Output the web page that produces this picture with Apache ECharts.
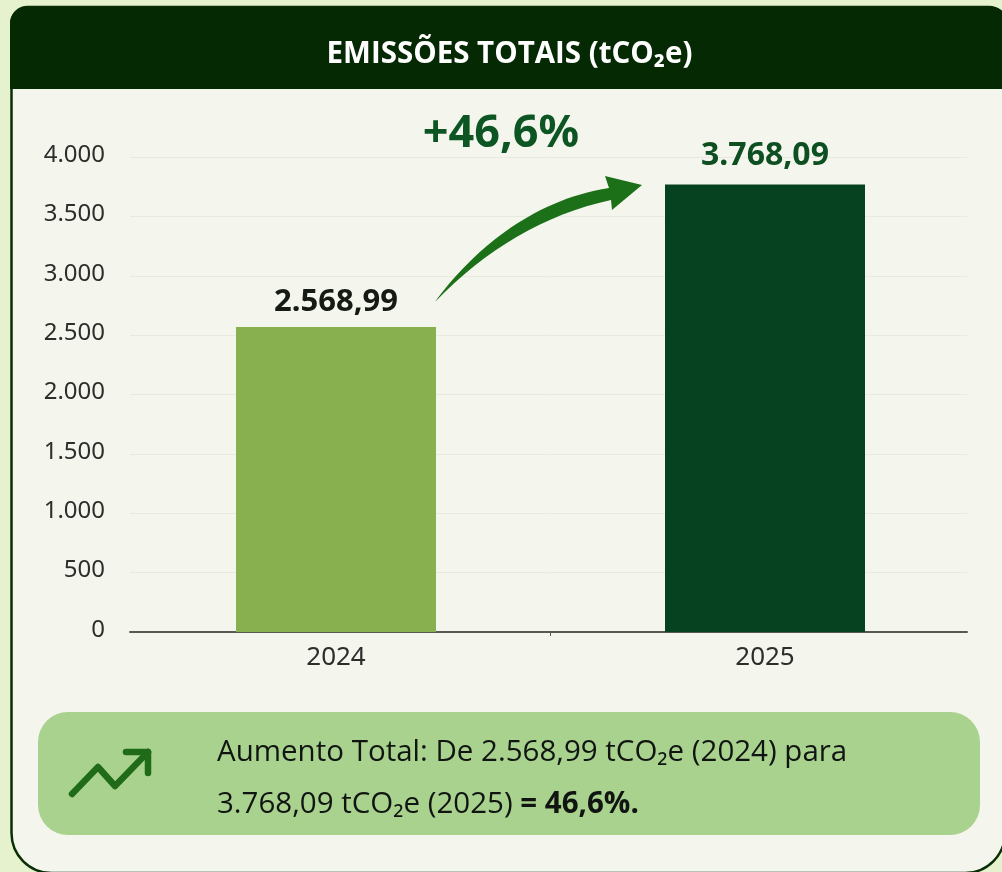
<!DOCTYPE html>
<html lang="pt-BR">
<head>
<meta charset="utf-8">
<title>Emissões totais</title>
<script src="https://cdn.jsdelivr.net/npm/echarts@6/dist/echarts.min.js"></script>
<style>
html, body { margin: 0; padding: 0; background: #e6f2cd; }
#chart { width: 1002px; height: 872px; }
</style>
</head>
<body>
<div id="chart"></div>
<script type="text/javascript">
var categories = ['2024', '2025'];
var totals = [2568.99, 3768.09];
var totalLabels = ['2.568,99', '3.768,09'];
var barColors = ['#88b04f', '#074220'];
var labelColors = ['#151a14', '#0d4f20'];
var labelSizes = [31, 32];
var labelGaps = [9, 13];
var yTicks = { 0: '0', 500: '500', 1000: '1.000', 1500: '1.500', 2000: '2.000', 2500: '2.500', 3000: '3.000', 3500: '3.500', 4000: '4.000' };

var font = '"Noto Sans", "Open Sans", sans-serif';
var bodyFont = '"Open Sans", "Noto Sans", sans-serif';
var chart = echarts.init(document.getElementById('chart'), null, { renderer: 'canvas' });

// curved arrow between the two bars
echarts.graphic.registerShape('growthArrow', echarts.graphic.extendShape({
    buildPath: function (ctx) {
        ctx.moveTo(435, 302);
        ctx.bezierCurveTo(470, 254, 530, 200, 609, 188);
        ctx.lineTo(605, 176);
        ctx.lineTo(642, 185);
        ctx.lineTo(612, 210);
        ctx.lineTo(611, 200);
        ctx.bezierCurveTo(545, 214, 485, 250, 435, 302);
        ctx.closePath();
    }
}));

var option = {
    animation: false,
    backgroundColor: '#e6f2cd',
    // grid 0 carries the lines, grid 1 the bars (bars sit wider apart than the axis line is long)
    grid: [
        { left: 130, width: 837, top: 157, height: 475 },
        { left: 121.5, width: 858, top: 157, height: 475 }
    ],
    xAxis: [
        {
            type: 'value', gridIndex: 0, min: 0, max: 1,
            splitLine: { show: false },
            axisLabel: { show: false },
            axisLine: { show: true, lineStyle: { color: '#555a55', width: 2 } },
            axisTick: { show: true, customValues: [0.502], length: 4, lineStyle: { color: '#555a55', width: 1 } }
        },
        {
            type: 'category', gridIndex: 1, data: categories,
            axisLine: { show: false },
            axisTick: { show: false },
            axisLabel: { color: '#2b2e2b', fontFamily: font, fontSize: 26, margin: 13 }
        }
    ],
    yAxis: [
        {
            type: 'value', gridIndex: 0, min: 0, max: 4000, interval: 500,
            axisLine: { show: false },
            axisTick: { show: false },
            splitLine: { lineStyle: { color: '#e7eadf', width: 1 } },
            axisLabel: {
                color: '#2b2e2b', fontFamily: font, fontSize: 24, margin: 25,
                verticalAlign: 'bottom', lineHeight: 4,
                formatter: function (v) { return yTicks[v]; }
            }
        },
        { type: 'value', gridIndex: 1, min: 0, max: 4000, show: false }
    ],
    series: [{
        type: 'bar',
        xAxisIndex: 1,
        yAxisIndex: 1,
        barWidth: 200,
        z: 3,
        data: totals.map(function (v, i) {
            return {
                value: v,
                itemStyle: { color: barColors[i] },
                label: { color: labelColors[i], fontSize: labelSizes[i], distance: labelGaps[i] }
            };
        }),
        label: {
            show: true,
            position: 'top',
            fontFamily: font,
            fontWeight: 'bold',
            formatter: function (p) { return totalLabels[p.dataIndex]; }
        }
    }],
    graphic: [
        // card
        {
            type: 'rect', z: -10, silent: true,
            shape: { x: 11.5, y: 7, width: 993.5, height: 866, r: [16, 16, 40, 40] },
            style: { fill: '#f4f6ee', stroke: '#0a2e05', lineWidth: 2.5 }
        },
        {
            type: 'rect', z: -9, silent: true,
            shape: { x: 10, y: 7, width: 998, height: 82, r: [16, 16, 0, 0] },
            style: { fill: '#052a03' }
        },
        {
            type: 'text', z: 5, silent: true, x: 509.5, y: 55,
            style: {
                text: 'EMISSÕES TOTAIS (tCO₂e)', fill: '#ffffff', font: 'bold 29.5px ' + bodyFont,
                align: 'center', verticalAlign: 'middle'
            }
        },
        // growth arrow
        {
            type: 'growthArrow', z: 5, silent: true,
            shape: {},
            style: { fill: '#1c7018' }
        },
        {
            type: 'text', z: 5, silent: true, x: 501, y: 134,
            style: {
                text: '+46,6%', fill: '#0d5522', font: 'bold 45px ' + font,
                align: 'center', verticalAlign: 'middle'
            }
        },
        // summary box
        {
            type: 'rect', z: 1, silent: true,
            shape: { x: 38, y: 712, width: 942, height: 123, r: 30 },
            style: { fill: '#a9d28f' }
        },
        {
            type: 'polyline', z: 5, silent: true,
            shape: { points: [[72, 794], [98, 767], [115, 786], [148, 752]] },
            style: { stroke: '#1f6b18', lineWidth: 6.5, lineCap: 'round', lineJoin: 'round', fill: null }
        },
        {
            type: 'polyline', z: 5, silent: true,
            shape: { points: [[126, 752], [148, 752], [148, 773]] },
            style: { stroke: '#1f6b18', lineWidth: 6.5, lineCap: 'round', lineJoin: 'round', fill: null }
        },
        {
            type: 'text', z: 5, silent: true, x: 217, y: 753,
            style: {
                text: 'Aumento Total: De 2.568,99 tCO₂e (2024) para', fill: '#111511',
                font: '29.5px ' + bodyFont, verticalAlign: 'middle'
            }
        },
        {
            type: 'text', z: 5, silent: true, x: 217, y: 805,
            style: {
                text: '{n|3.768,09 tCO₂e (2025) }{b|= 46,6%.}',
                verticalAlign: 'middle',
                rich: {
                    n: { fill: '#111511', font: '29.5px ' + bodyFont },
                    b: { fill: '#111511', font: 'bold 29.5px ' + bodyFont }
                }
            }
        }
    ]
};

chart.setOption(option);
</script>
</body>
</html>
